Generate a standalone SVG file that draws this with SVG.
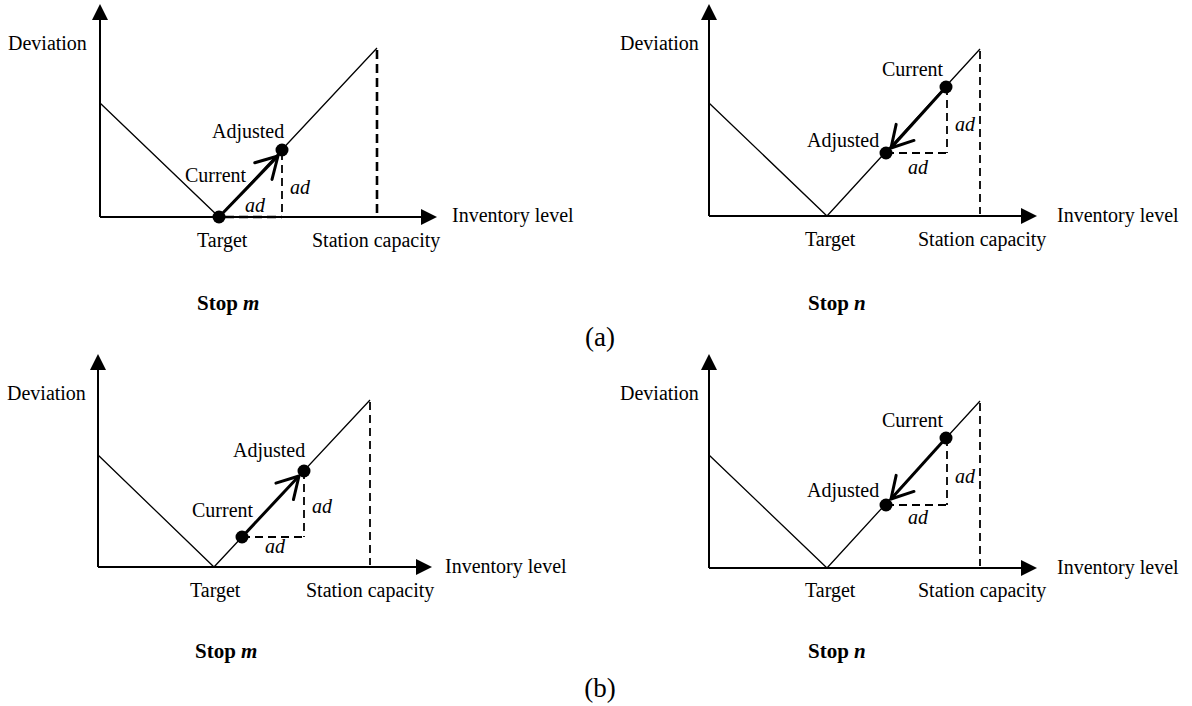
<svg xmlns="http://www.w3.org/2000/svg" width="1192" height="706" viewBox="0 0 1192 706">
<style>
text{font-family:"Liberation Serif","Times New Roman",serif;font-size:20px;fill:#000}
.it{font-style:italic}
.cap{font-weight:bold;font-size:21px}
.ax{stroke:#000;stroke-width:2;fill:none}
.ln{stroke:#000;stroke-width:1.3;fill:none}
.ds{stroke:#000;stroke-width:1.8;fill:none;stroke-dasharray:8,5}
.dsb{stroke:#000;stroke-width:2.6;fill:none;stroke-dasharray:9,5}
.mv{stroke:#000;stroke-width:3;fill:none;marker-end:url(#open)}
.dot{fill:#000}
.head{fill:#000}
</style>
<defs>
<marker id="open" markerUnits="userSpaceOnUse" orient="auto" markerWidth="40" markerHeight="40" refX="0" refY="0" viewBox="-30 -20 40 40" overflow="visible">
<path d="M-21,-12 L0,0 L-21,12" fill="none" stroke="#000" stroke-width="3" stroke-linecap="round" stroke-linejoin="round"/>
</marker>
</defs>

<g id="panel-a-m">
<g id="axes-a-m">
<line class="ax" x1="100" y1="18" x2="100" y2="217"/>
<polygon class="head" points="100,4 92,20 108,20"/>
<line class="ax" x1="100" y1="217" x2="423" y2="217"/>
<polygon class="head" points="437,217 421,209 421,225"/>
</g>
<text x="8" y="50">Deviation</text>
<text x="452" y="222">Inventory level</text>
<text x="197" y="247">Target</text>
<text x="312" y="247">Station capacity</text>
<g id="connectors-a-m">
<polyline class="ln" points="100,103 219,217 377,48"/>
<line class="dsb" x1="377" y1="50" x2="377" y2="213"/>
<line class="ds" x1="282" y1="152" x2="282" y2="217"/>
<line class="dsb" x1="225" y1="217" x2="282" y2="217"/>
<line class="mv" x1="219" y1="217" x2="278" y2="156"/>
</g>
<circle id="target-a-m" class="dot" cx="219" cy="217" r="6.5"/>
<circle id="adjusted-a-m" class="dot" cx="282" cy="150" r="6.5"/>
<text x="212" y="138">Adjusted</text>
<text x="185" y="182">Current</text>
<text class="it" x="245" y="212">ad</text>
<text class="it" x="290" y="194">ad</text>
<text class="cap" x="197" y="310">Stop <tspan font-style="italic">m</tspan></text>
</g>

<g id="panel-a-n">
<g id="axes-a-n">
<line class="ax" x1="709" y1="18" x2="709" y2="216"/>
<polygon class="head" points="709,4 701,20 717,20"/>
<line class="ax" x1="709" y1="216" x2="1023" y2="216"/>
<polygon class="head" points="1037,216 1021,208 1021,224"/>
</g>
<text x="620" y="50">Deviation</text>
<text x="1057" y="222">Inventory level</text>
<text x="805" y="246">Target</text>
<text x="918" y="246">Station capacity</text>
<g id="connectors-a-n">
<polyline class="ln" points="709,103 827,216 980,49"/>
<line class="ds" x1="980" y1="51" x2="980" y2="214"/>
<line class="ds" x1="947" y1="87" x2="947" y2="153"/>
<line class="ds" x1="886" y1="153" x2="947" y2="153"/>
<line class="mv" x1="946" y1="87" x2="891" y2="148"/>
</g>
<circle id="current-a-n" class="dot" cx="946" cy="87" r="6.5"/>
<circle id="adjusted-a-n" class="dot" cx="886" cy="153" r="6.5"/>
<text x="882" y="76">Current</text>
<text x="807" y="147">Adjusted</text>
<text class="it" x="955" y="131">ad</text>
<text class="it" x="908" y="174">ad</text>
<text class="cap" x="808" y="310">Stop <tspan font-style="italic">n</tspan></text>
</g>

<text id="label-a" x="600" y="346" text-anchor="middle" style="font-size:27px">(a)</text>

<g id="panel-b-m">
<g id="axes-b-m">
<line class="ax" x1="98" y1="368" x2="98" y2="567"/>
<polygon class="head" points="98,354 90,370 106,370"/>
<line class="ax" x1="98" y1="567" x2="418" y2="567"/>
<polygon class="head" points="432,567 416,559 416,575"/>
</g>
<text x="7" y="400">Deviation</text>
<text x="445" y="573">Inventory level</text>
<text x="190" y="597">Target</text>
<text x="306" y="597">Station capacity</text>
<g id="connectors-b-m">
<polyline class="ln" points="98,455 214,567 370,400"/>
<line class="ds" x1="370" y1="402" x2="370" y2="565"/>
<line class="ds" x1="242" y1="537" x2="304" y2="537"/>
<line class="ds" x1="304" y1="471" x2="304" y2="537"/>
<line class="mv" x1="242" y1="537" x2="299" y2="476"/>
</g>
<circle id="current-b-m" class="dot" cx="242" cy="537" r="6.5"/>
<circle id="adjusted-b-m" class="dot" cx="304" cy="471" r="6.5"/>
<text x="233" y="457">Adjusted</text>
<text x="192" y="517">Current</text>
<text class="it" x="312" y="513">ad</text>
<text class="it" x="265" y="553">ad</text>
<text class="cap" x="195" y="658">Stop <tspan font-style="italic">m</tspan></text>
</g>

<g id="panel-b-n">
<g id="axes-b-n">
<line class="ax" x1="709" y1="368" x2="709" y2="568"/>
<polygon class="head" points="709,354 701,370 717,370"/>
<line class="ax" x1="709" y1="568" x2="1023" y2="568"/>
<polygon class="head" points="1037,568 1021,560 1021,576"/>
</g>
<text x="620" y="400">Deviation</text>
<text x="1057" y="574">Inventory level</text>
<text x="805" y="597">Target</text>
<text x="918" y="597">Station capacity</text>
<g id="connectors-b-n">
<polyline class="ln" points="709,455 827,568 980,401"/>
<line class="ds" x1="980" y1="403" x2="980" y2="566"/>
<line class="ds" x1="947" y1="438" x2="947" y2="505"/>
<line class="ds" x1="886" y1="505" x2="947" y2="505"/>
<line class="mv" x1="946" y1="438" x2="891" y2="499"/>
</g>
<circle id="current-b-n" class="dot" cx="946" cy="438" r="6.5"/>
<circle id="adjusted-b-n" class="dot" cx="886" cy="505" r="6.5"/>
<text x="882" y="427">Current</text>
<text x="807" y="497">Adjusted</text>
<text class="it" x="955" y="483">ad</text>
<text class="it" x="908" y="524">ad</text>
<text class="cap" x="808" y="658">Stop <tspan font-style="italic">n</tspan></text>
</g>

<text id="label-b" x="600" y="697" text-anchor="middle" style="font-size:27px">(b)</text>
</svg>
